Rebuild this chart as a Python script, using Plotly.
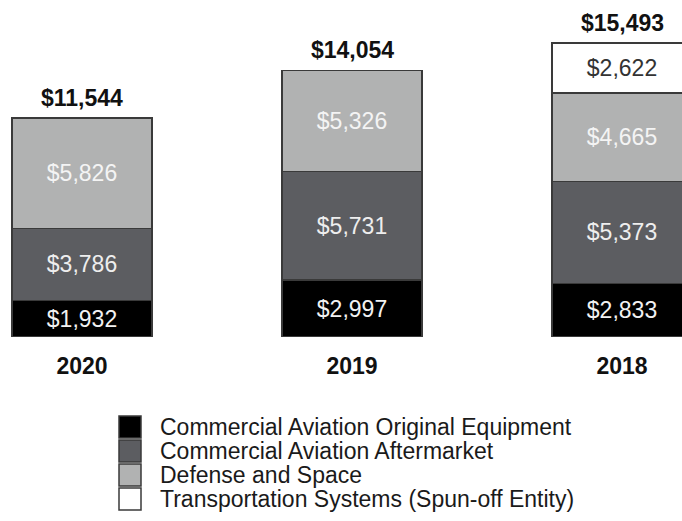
import plotly.graph_objects as go

years = ["2020", "2019", "2018"]
series_names = [
    "Commercial Aviation Original Equipment",
    "Commercial Aviation Aftermarket",
    "Defense and Space",
    "Transportation Systems (Spun-off Entity)",
]
ca_oe = [1932, 2997, 2833]
ca_am = [3786, 5731, 5373]
def_space = [5826, 5326, 4665]
transport = [None, None, 2622]
totals = [11544, 14054, 15493]

series_values = [ca_oe, ca_am, def_space, transport]
fills = ["#000000", "#5c5d61", "#b1b2b2", "#ffffff"]
text_cols = ["#f2f2f2", "#eeeeee", "#f4f4f4", "#333333"]

FONT = "Liberation Sans, Arial, sans-serif"
W, H = 682, 521
PLOT_BOTTOM = 337  # px from top

fig = go.Figure()
for name, vals, fc, tc in zip(series_names, series_values, fills, text_cols):
    fig.add_trace(go.Bar(
        x=years, y=vals, name=name, width=0.52,
        marker=dict(color=fc, line=dict(color="#3a3a3a", width=1.5)),
        text=[f"${v:,}" if v is not None else "" for v in vals],
        textposition="inside", insidetextanchor="middle",
        constraintext="none",
        textfont=dict(family=FONT, size=23, color=tc),
        showlegend=False, hoverinfo="skip",
    ))

annotations = []
for i, tot in enumerate(totals):
    annotations.append(dict(
        x=i, y=tot, xref="x", yref="y", text=f"<b>${tot:,}</b>",
        showarrow=False, xanchor="center", yanchor="bottom", yshift=5,
        font=dict(family=FONT, size=23, color="#111111"),
    ))

# manual legend (layout decoration)
def py2paper(py):
    return (PLOT_BOTTOM - py) / PLOT_BOTTOM

shapes = []
row0, dy = 427, 24
for i, (name, fc) in enumerate(zip(series_names, fills)):
    cy = row0 + i * dy
    shapes.append(dict(
        type="rect", xref="paper", yref="paper",
        x0=119 / W, x1=141 / W,
        y0=py2paper(cy + 11), y1=py2paper(cy - 11),
        fillcolor=fc, line=dict(color="#3a3a3a", width=1.5),
    ))
    annotations.append(dict(
        xref="paper", yref="paper", x=158 / W, y=py2paper(cy),
        xanchor="left", yanchor="middle", text=name, showarrow=False,
        font=dict(family=FONT, size=23, color="#1a1a1a"),
    ))

px_per_unit = 270.0
x0 = -82 / px_per_unit
fig.update_layout(
    barmode="stack",
    width=W, height=H, autosize=False,
    margin=dict(l=0, r=0, t=0, b=H - PLOT_BOTTOM, pad=0),
    paper_bgcolor="white", plot_bgcolor="white",
    xaxis=dict(
        type="category",
        range=[x0, x0 + W / px_per_unit], showgrid=False, zeroline=False,
        showline=False, ticks="", ticklabelstandoff=13,
        tickfont=dict(family=FONT, size=23, color="#111111", weight="bold"),
    ),
    yaxis=dict(range=[0, PLOT_BOTTOM / 0.01897], visible=False),
    shapes=shapes, annotations=annotations,
    font=dict(family=FONT),
)

fig.write_html("out.html", config={"displayModeBar": False},
               post_script="document.body.style.margin='0px';")
